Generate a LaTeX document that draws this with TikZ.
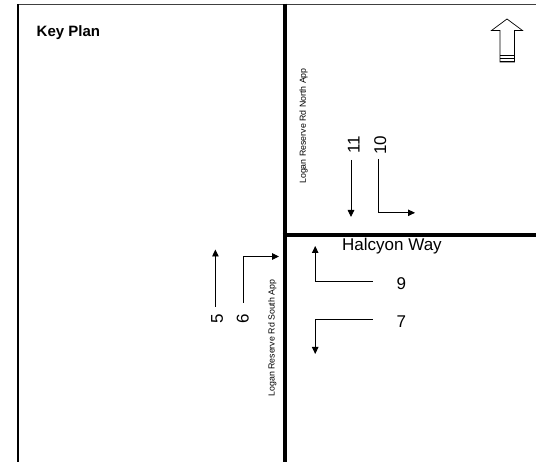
\documentclass[tikz,border=0pt]{standalone}
\usepackage{fontspec}
\setmainfont{Liberation Sans}
\usetikzlibrary{arrows.meta}
\tikzset{
  road/.style={line width=4pt},
  frame/.style={line width=1.9pt},
  mv/.style={line width=0.9pt,-{Triangle[length=7pt,width=6.5pt]}},
  num/.style={inner sep=0pt,font=\fontsize{17}{17}\selectfont},
  rlab/.style={inner sep=0pt,rotate=90,font=\fontsize{8.8}{9}\selectfont},
}
\begin{document}
\begin{tikzpicture}[x=1pt,y=-1pt]
\useasboundingbox[fill=white] (0,0) rectangle (536,462);
% frame
\coordinate (ftl) at (17.7,4.5);
\coordinate (ftr) at (536,4.5);
\coordinate (fbl) at (17.7,462);
\draw[line width=1.6pt,black!75] (ftl) -- (ftr);
\draw[frame] (fbl) -- (ftl);
% roads
\coordinate (vt) at (284.7,3.7);
\coordinate (vb) at (284.7,462);
\coordinate (hl) at (282.7,234.7);
\coordinate (hr) at (536,234.7);
\draw[road] (vt) -- (vb);
\draw[road] (hl) -- (hr);
% title
\node[inner sep=0pt,anchor=west,font=\fontsize{15}{15}\selectfont\bfseries] (title) at (36.5,32.5) {Key Plan};
% north arrow
\draw[line width=0.7pt,fill=white] (500,62) -- (500,30.5) -- (491.5,30.5) -- (507,19) -- (522.5,30.5) -- (514.5,30.5) -- (514.5,62) -- cycle;
\draw[line width=0.6pt] (500,55) -- (514.5,55);
\draw[line width=1.3pt] (500,58.7) -- (514.5,58.7);
\draw[line width=1.3pt] (500,61.5) -- (514.5,61.5);
% labels
\node[rlab] (north) at (303.6,126) {Logan Reserve Rd North App};
\node[rlab] (south) at (272.4,338) {Logan Reserve Rd South App};
\node[num,anchor=west] (halcyon) at (342,246) {Halcyon Way};
\node[num,rotate=90] (n11) at (353.8,145) {11};
\node[num,rotate=90] (n10) at (380.2,145) {10};
\node[num,rotate=90] (n5) at (217.2,319) {5};
\node[num,rotate=90] (n6) at (242.8,319) {6};
\node[num] (n9) at (401.4,283.5) {9};
\node[num] (n7) at (401.4,321.3) {7};
% movements
\coordinate (a11s) at (351,160);
\coordinate (a11e) at (351,217);
\draw[mv] (a11s) -- (a11e);
\coordinate (a10s) at (378.6,159);
\coordinate (a10c) at (378.6,212.8);
\coordinate (a10e) at (415,212.8);
\draw[mv] (a10s) -- (a10c) -- (a10e);
\coordinate (a5s) at (215.4,307);
\coordinate (a5e) at (215.4,249.5);
\draw[mv] (a5s) -- (a5e);
\coordinate (a6s) at (243,303);
\coordinate (a6c) at (243,256.5);
\coordinate (a6e) at (279,256.5);
\draw[mv] (a6s) -- (a6c) -- (a6e);
\coordinate (a9s) at (372.6,281.7);
\coordinate (a9c) at (315.2,281.7);
\coordinate (a9e) at (315.2,246);
\draw[mv] (a9s) -- (a9c) -- (a9e);
\coordinate (a7s) at (372.6,319.3);
\coordinate (a7c) at (315.2,319.3);
\coordinate (a7e) at (315.2,354);
\draw[mv] (a7s) -- (a7c) -- (a7e);
\end{tikzpicture}
\end{document}
